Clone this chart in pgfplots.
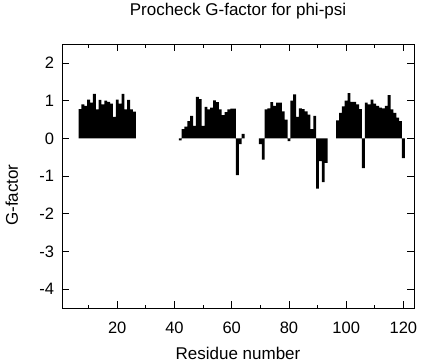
\documentclass[border=0pt]{standalone}
\usepackage{fontspec}
\setmainfont{Liberation Sans}
\usepackage{pgfplots}
\pgfplotsset{compat=1.18}
\usetikzlibrary{calc}
\begin{document}
\begin{tikzpicture}
\begin{axis}[
  scale only axis, width=352pt, height=264pt,
  xmin=0.7, xmax=123.7, ymin=-4.5, ymax=2.5,
  ybar, bar width=1,
  axis line style={black, line width=0.9pt},
  tick style={black, line width=0.8pt},
  tick align=inside, major tick length=7pt, minor tick length=3.5pt,
  xtick={20,40,60,80,100,120}, xticklabels={20,40,60,80,100,120},
  minor xtick={10,30,50,70,90,110},
  ytick={-4,-3,-2,-1,0,1,2}, yticklabels={-4,-3,-2,-1,0,1,2},
  font=\fontsize{16.5}{19}\selectfont,
  every tick label/.append style={font=\fontsize{16.5}{19}\selectfont},
  xticklabel style={anchor=base, yshift=-25pt},
  yticklabel style={xshift=-4.5pt},
  title={Procheck G-factor for phi-psi},
  title style={at={(axis description cs:0.5,1)}, anchor=base, yshift=22.5pt, font=\fontsize{17}{20}\selectfont},
  xlabel={Residue number},
  xlabel style={at={(axis description cs:0.5,0)}, anchor=base, yshift=-51pt, font=\fontsize{17}{20}\selectfont},
  ylabel={G-factor},
  ylabel style={at={($(axis description cs:0,0.5)+(-44pt,-19pt)$)}, anchor=base, font=\fontsize{17}{20}\selectfont},
]
\addplot[fill=black, draw=none] coordinates {
(7,0.78) (8,0.90) (9,0.86) (10,1.03) (11,0.95) (12,1.18) (13,0.77) (14,1.02) (15,0.90) (16,1.00)
(17,0.97) (18,0.92) (19,0.57) (20,1.03) (21,0.92) (22,1.18) (23,0.77) (24,1.02) (25,0.77) (26,0.71)
(42,-0.05) (43,0.25) (44,0.31) (45,0.46) (46,0.60) (47,0.33) (48,1.10) (49,1.04) (50,0.33) (51,0.84)
(52,0.77) (53,0.82) (54,1.01) (55,0.96) (56,0.77) (57,0.62) (58,0.70) (59,0.77) (60,0.79) (61,0.79)
(62,-0.97) (63,-0.15) (64,0.12)
(70,-0.15) (71,-0.56) (72,0.77) (73,0.80) (74,0.96) (75,0.86) (76,0.95) (77,0.95) (78,0.72) (79,0.50)
(80,-0.07) (81,1.00) (82,1.17) (83,0.57) (84,0.80) (85,0.78) (86,0.72) (87,0.63) (88,0.25) (89,0.60)
(90,-1.33) (91,-0.60) (92,-1.16) (93,-0.65)
(97,0.48) (98,0.68) (99,0.85) (100,1.00) (101,1.20) (102,0.97) (103,0.97) (104,0.90) (105,0.78) (106,-0.79)
(107,0.95) (108,0.90) (109,1.03) (110,0.92) (111,0.86) (112,0.82) (113,0.80) (114,0.86) (115,1.15) (116,0.77)
(117,0.68) (118,0.55) (119,0.46) (120,-0.52)
};
\end{axis}
\path (current axis.south west) ++(-62pt,-54pt);
\path (current axis.north east) ++(7pt,42pt);
\end{tikzpicture}
\end{document}
